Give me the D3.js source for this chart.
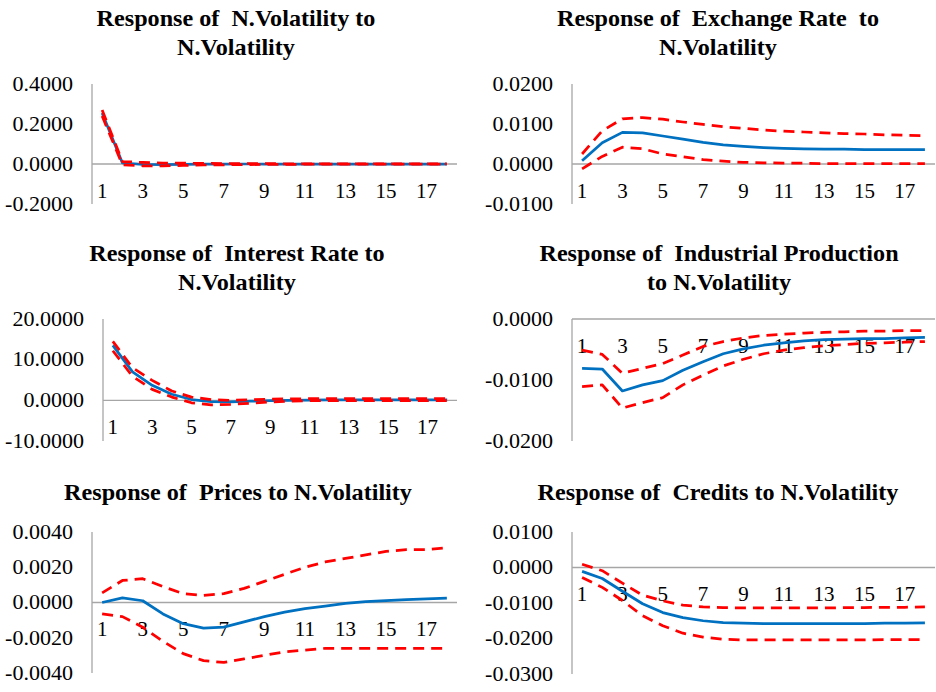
<!DOCTYPE html>
<html>
<head>
<meta charset="utf-8">
<script src="https://cdn.jsdelivr.net/npm/d3@7"></script>
<style>
  html, body { margin: 0; padding: 0; background: #fff; }
  svg { display: block; }
  text { font-family: "Liberation Serif", "Times New Roman", "DejaVu Serif", serif; fill: #000; white-space: pre; }
</style>
</head>
<body>
<svg id="chart" width="936" height="692"></svg>
<script>
// ---------------- DATA ----------------
const horizons = [1,2,3,4,5,6,7,8,9,10,11,12,13,14,15,16,17,18];
const xTickLabels = [1,3,5,7,9,11,13,15,17];

// Response of N.Volatility to N.Volatility
const nvolIrf = [0.255, 0.005, -0.002, -0.003, -0.002, -0.001, -0.001, 0, 0, 0, 0, 0, 0, 0, 0, 0, 0, 0];
const nvolUp  = [0.270, 0.012, 0.008, 0.005, 0.004, 0.003, 0.002, 0.002, 0.002, 0.001, 0.001, 0.001, 0.001, 0.001, 0.001, 0.001, 0.001, 0.001];
const nvolLo  = [0.240, -0.004, -0.009, -0.009, -0.007, -0.005, -0.004, -0.003, -0.002, -0.002, -0.001, -0.001, -0.001, -0.001, -0.001, -0.001, -0.001, -0.001];
const nvolTicks = [-0.2, 0, 0.2, 0.4];

// Response of Exchange Rate to N.Volatility
const exIrf = [0.0008, 0.0053, 0.0079, 0.0078, 0.0070, 0.0062, 0.0054, 0.0048, 0.0044, 0.0041, 0.0039, 0.0038, 0.0037, 0.0037, 0.0036, 0.0036, 0.0036, 0.0036];
const exUp  = [0.0025, 0.0083, 0.0113, 0.0116, 0.0112, 0.0105, 0.0099, 0.0093, 0.0089, 0.0085, 0.0082, 0.0080, 0.0078, 0.0076, 0.0075, 0.0073, 0.0072, 0.0071];
const exLo  = [-0.0012, 0.0019, 0.0042, 0.0038, 0.0025, 0.0018, 0.0011, 0.0007, 0.0004, 0.0003, 0.0002, 0.0002, 0.0001, 0.0001, 0.0001, 0.0001, 0.0001, 0.0001];
const exTicks = [-0.01, 0, 0.01, 0.02];

// Response of Interest Rate to N.Volatility
const irIrf = [13.5, 7.0, 3.7, 1.5, 0.2, -0.3, -0.35, -0.2, -0.1, 0.0, 0.05, 0.1, 0.1, 0.1, 0.1, 0.1, 0.1, 0.1];
const irUp  = [14.5, 8.0, 4.9, 2.3, 0.8, 0.2, 0.0, 0.15, 0.3, 0.35, 0.4, 0.4, 0.4, 0.4, 0.4, 0.4, 0.4, 0.4];
const irLo  = [12.2, 5.9, 2.7, 0.8, -0.6, -1.1, -1.0, -0.7, -0.4, -0.2, -0.1, -0.05, -0.05, -0.05, -0.05, -0.05, -0.05, -0.05];
const irTicks = [-10, 0, 10, 20];

// Response of Industrial Production to N.Volatility
const ipIrf = [-0.0081, -0.0082, -0.0118, -0.0108, -0.0101, -0.0084, -0.0070, -0.0057, -0.0049, -0.0043, -0.0039, -0.0036, -0.0034, -0.0033, -0.0032, -0.0032, -0.0031, -0.0030];
const ipUp  = [-0.0051, -0.0058, -0.0089, -0.0081, -0.0073, -0.0059, -0.0045, -0.0037, -0.0031, -0.0027, -0.0025, -0.0023, -0.0022, -0.0021, -0.0020, -0.0020, -0.0019, -0.0019];
const ipLo  = [-0.0111, -0.0108, -0.0146, -0.0137, -0.0129, -0.0108, -0.0092, -0.0077, -0.0066, -0.0057, -0.0051, -0.0047, -0.0044, -0.0042, -0.0040, -0.0039, -0.0038, -0.0037];
const ipTicks = [-0.02, -0.01, 0];

// Response of Prices to N.Volatility
const prIrf = [0, 0.00026, 0.0001, -0.00065, -0.0012, -0.00145, -0.0014, -0.0011, -0.0008, -0.00055, -0.00035, -0.0002, -0.00005, 0.00005, 0.0001, 0.00017, 0.0002, 0.00025];
const prUp  = [0.00055, 0.00125, 0.00135, 0.0009, 0.0005, 0.0004, 0.0005, 0.0008, 0.0012, 0.0016, 0.0020, 0.0023, 0.0025, 0.0027, 0.0029, 0.0030, 0.0030, 0.0031];
const prLo  = [-0.00065, -0.0008, -0.0014, -0.0022, -0.0029, -0.0033, -0.0034, -0.0032, -0.0030, -0.0028, -0.0027, -0.0026, -0.0026, -0.0026, -0.0026, -0.0026, -0.0026, -0.0026];
const prTicks = [-0.004, -0.002, 0, 0.002, 0.004];

// Response of Credits to N.Volatility
const crIrf = [-0.0011, -0.0031, -0.0067, -0.0102, -0.0127, -0.0141, -0.0150, -0.0155, -0.0157, -0.0158, -0.0158, -0.0158, -0.0158, -0.0158, -0.0158, -0.0157, -0.0157, -0.0156];
const crUp  = [0.0009, -0.0009, -0.0044, -0.0078, -0.0094, -0.0106, -0.0111, -0.0113, -0.0114, -0.0114, -0.0114, -0.0114, -0.0114, -0.0113, -0.0113, -0.0112, -0.0112, -0.0111];
const crLo  = [-0.0028, -0.0056, -0.0093, -0.0136, -0.0164, -0.0185, -0.0196, -0.0202, -0.0204, -0.0204, -0.0204, -0.0204, -0.0204, -0.0204, -0.0204, -0.0203, -0.0203, -0.0203];
const crTicks = [-0.03, -0.02, -0.01, 0, 0.01];

const titles = [
  ["Response of  N.Volatility to", "N.Volatility"],
  ["Response of  Exchange Rate  to", "N.Volatility"],
  ["Response of  Interest Rate to", "N.Volatility"],
  ["Response of  Industrial Production", "to N.Volatility"],
  ["Response of  Prices to N.Volatility"],
  ["Response of  Credits to N.Volatility"]
];

// ---------------- LAYOUT ----------------
const panels = [
  {irf: nvolIrf, up: nvolUp, lo: nvolLo, ticks: nvolTicks, x0: 92,  x1: 457, yT: 84,  yB: 204, tx: 236, ty: 18},
  {irf: exIrf,   up: exUp,   lo: exLo,   ticks: exTicks,   x0: 572, x1: 935, yT: 84,  yB: 204, tx: 718, ty: 18},
  {irf: irIrf,   up: irUp,   lo: irLo,   ticks: irTicks,   x0: 103, x1: 457, yT: 319, yB: 441, tx: 237, ty: 253},
  {irf: ipIrf,   up: ipUp,   lo: ipLo,   ticks: ipTicks,   x0: 572, x1: 935, yT: 319, yB: 441, tx: 719, ty: 253},
  {irf: prIrf,   up: prUp,   lo: prLo,   ticks: prTicks,   x0: 92,  x1: 457, yT: 532, yB: 673, tx: 238, ty: 492},
  {irf: crIrf,   up: crUp,   lo: crLo,   ticks: crTicks,   x0: 572, x1: 935, yT: 532, yB: 674, tx: 718, ty: 492}
];

const svg = d3.select("#chart");
const fmt = v => (Math.abs(v) < 1e-12 ? 0 : v).toFixed(4);
const SX = 1.05; // horizontal stretch of the reference lettering

panels.forEach((p, i) => {
  const g = svg.append("g");
  const x = d3.scaleBand().domain(horizons).range([p.x0, p.x1]);
  const y = d3.scaleLinear().domain(d3.extent(p.ticks)).range([p.yB, p.yT]);
  const cx = d => x(d) + x.bandwidth() / 2;

  // title
  titles[i].forEach((t, k) => {
    g.append("text")
      .attr("transform", `translate(${p.tx},${p.ty + k * 29}) scale(${SX},1)`)
      .attr("text-anchor", "middle").attr("dominant-baseline", "central")
      .style("font-weight", "bold").style("font-size", "23px")
      .text(t);
  });

  // vertical axis line
  g.append("line")
    .attr("x1", p.x0).attr("x2", p.x0)
    .attr("y1", y(d3.max(p.ticks))).attr("y2", y(d3.min(p.ticks)))
    .attr("stroke", "#a6a6a6").attr("stroke-width", 1.3);

  // y tick labels
  g.selectAll(".yt").data(p.ticks).join("text")
    .attr("transform", d => `translate(${p.x0 - 19},${y(d)}) scale(${SX},1)`)
    .attr("text-anchor", "end").attr("dominant-baseline", "central")
    .style("font-size", "21px")
    .text(d => fmt(d));

  // horizontal category axis at zero
  const y0 = y(0);
  g.append("line")
    .attr("x1", p.x0).attr("x2", p.x1)
    .attr("y1", y0).attr("y2", y0)
    .attr("stroke", "#a6a6a6").attr("stroke-width", 1.3);

  // x tick labels
  g.selectAll(".xt").data(xTickLabels).join("text")
    .attr("transform", d => `translate(${cx(d)},${y0 + 27}) scale(${SX},1)`)
    .attr("text-anchor", "middle").attr("dominant-baseline", "central")
    .style("font-size", "20px")
    .text(d => d);

  const line = d3.line().x((d, j) => cx(horizons[j])).y(d => y(d));

  g.append("path").attr("d", line(p.irf))
    .attr("fill", "none").attr("stroke", "#0070C0").attr("stroke-width", 2.75)
    .attr("stroke-linejoin", "round");
  [p.up, p.lo].forEach(s => {
    g.append("path").attr("d", line(s))
      .attr("fill", "none").attr("stroke", "#FF0000").attr("stroke-width", 2.75)
      .attr("stroke-dasharray", "11,7").attr("stroke-linejoin", "round");
  });
});
</script>
</body>
</html>
